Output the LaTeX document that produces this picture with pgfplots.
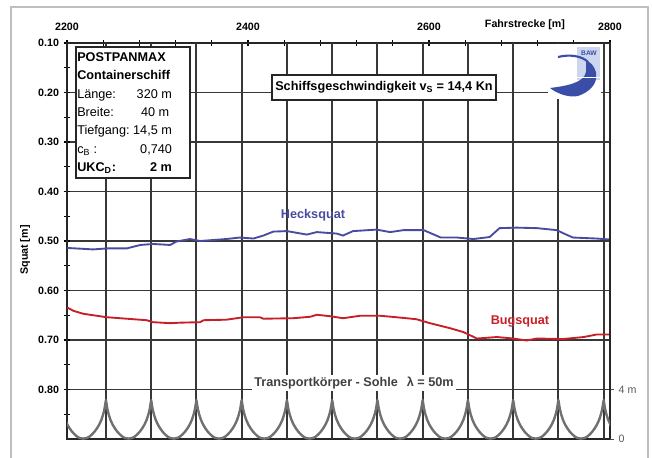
\documentclass[border=0pt]{standalone}
\usepackage{fontspec}
\setmainfont{Liberation Sans}
\usepackage{pgfplots}
\pgfplotsset{compat=1.18}

\definecolor{heckblue}{RGB}{74,74,160}
\definecolor{bugred}{RGB}{200,30,40}
\definecolor{archgray}{RGB}{112,112,112}
\definecolor{gridgray}{RGB}{55,55,55}
\definecolor{logoblue}{RGB}{58,78,168}
\definecolor{logopale}{RGB}{205,214,238}

\begin{document}
\begin{tikzpicture}[px/.style={x=0.75pt,y=-0.75pt,shift={(main.north west)},xshift=-50.25pt,yshift=32.25pt}]

% Squat along the track (m)
\begin{axis}[
    name=main,
    scale only axis, width=407.25pt, height=297pt,
    xmin=2200, xmax=2800, ymin=0.1, ymax=0.9, y dir=reverse,
    axis line style={line width=1pt, black!85},
    xtick={2200,2400,2600,2800}, minor x tick num=4,
    xtick pos=upper, xticklabel pos=upper,
    ytick={0.1,0.2,0.3,0.4,0.5,0.6,0.7,0.8},
    minor ytick={0.15,0.25,0.35,0.45,0.55,0.65,0.75,0.85},
    ytick pos=left,
    tick align=center, major tick length=5pt, minor tick length=4pt,
    every tick/.style={black, line width=0.8pt},
    ymajorgrids, major grid style={gridgray, line width=0.9pt},
    tick label style={font=\bfseries\fontsize{8}{9}\selectfont,
        /pgf/number format/assume math mode=true},
    xticklabel style={/pgf/number format/1000 sep={}, yshift=3pt},
    yticklabel style={/pgf/number format/.cd, fixed, fixed zerofill, precision=2},
]
% vertical grid, one line per sole wave (50 m)
\pgfplotsinvokeforeach{2243,2293,2343,2393,2443,2493,2543,2593,2643,2693,2743,2793}{
  \draw[gridgray, line width=1.5pt] (axis cs:#1,0.1) -- (axis cs:#1,0.9);
}
\addplot[heckblue, line width=1.4pt] coordinates {
(2200,0.514)(2229,0.517)(2244,0.515)(2266,0.515)(2281,0.508)(2295,0.506)
(2314,0.508)(2321,0.501)(2336,0.496)(2347,0.500)(2376,0.496)(2391,0.493)
(2406,0.495)(2417,0.489)(2428,0.481)(2443,0.480)(2465,0.487)(2476,0.482)
(2498,0.485)(2505,0.489)(2516,0.480)(2542,0.477)(2557,0.482)(2572,0.478)
(2594,0.478)(2613,0.493)(2631,0.493)(2649,0.496)(2667,0.492)(2678,0.474)
(2697,0.473)(2719,0.474)(2741,0.478)(2748,0.484)(2759,0.493)(2785,0.495)
(2800,0.497)
};
\addplot[bugred, line width=1.4pt] coordinates {
(2200,0.634)(2207,0.641)(2218,0.647)(2229,0.650)(2244,0.654)(2266,0.657)
(2288,0.660)(2295,0.664)(2314,0.666)(2325,0.665)(2347,0.664)(2351,0.660)
(2376,0.659)(2395,0.654)(2413,0.654)(2417,0.657)(2450,0.656)(2469,0.653)
(2476,0.649)(2491,0.652)(2505,0.656)(2524,0.651)(2546,0.651)(2564,0.654)
(2586,0.658)(2601,0.666)(2623,0.676)(2638,0.684)(2653,0.697)(2675,0.694)
(2693,0.697)(2708,0.701)(2719,0.697)(2748,0.698)(2771,0.694)(2785,0.689)
(2800,0.689)
};
\end{axis}

% Sole profile (m above base), lambda = 50 m
\begin{axis}[
    scale only axis, width=407.25pt, height=297pt,
    xmin=2200, xmax=2800, ymin=0, ymax=32,
    axis x line=none, axis y line*=right,
    axis line style={line width=1pt, black!85},
    ytick={0,4}, yticklabels={0,4 m},
    tick align=outside, major tick length=3pt,
    every tick/.style={black!70, line width=0.6pt},
    yticklabel style={font=\fontsize{8}{9}\selectfont, text=black!65},
]
\addplot[archgray, line width=1.8pt, line join=round] coordinates {
(2193,3.15)(2194.5,2.45)(2196,2.0)(2198,1.55)(2200.5,1.15)(2203,0.85)(2205.5,0.6)(2208,0.4)(2211,0.2)(2214,0.08)
(2218,0.03)(2222,0.08)(2225,0.2)(2228,0.4)(2230.5,0.6)(2233,0.85)(2235.5,1.15)(2238,1.55)(2240,2.0)(2241.5,2.45)(2243,3.15)
(2244.5,2.45)(2246,2.0)(2248,1.55)(2250.5,1.15)(2253,0.85)(2255.5,0.6)(2258,0.4)(2261,0.2)(2264,0.08)
(2268,0.03)(2272,0.08)(2275,0.2)(2278,0.4)(2280.5,0.6)(2283,0.85)(2285.5,1.15)(2288,1.55)(2290,2.0)(2291.5,2.45)(2293,3.15)
(2294.5,2.45)(2296,2.0)(2298,1.55)(2300.5,1.15)(2303,0.85)(2305.5,0.6)(2308,0.4)(2311,0.2)(2314,0.08)
(2318,0.03)(2322,0.08)(2325,0.2)(2328,0.4)(2330.5,0.6)(2333,0.85)(2335.5,1.15)(2338,1.55)(2340,2.0)(2341.5,2.45)(2343,3.15)
(2344.5,2.45)(2346,2.0)(2348,1.55)(2350.5,1.15)(2353,0.85)(2355.5,0.6)(2358,0.4)(2361,0.2)(2364,0.08)
(2368,0.03)(2372,0.08)(2375,0.2)(2378,0.4)(2380.5,0.6)(2383,0.85)(2385.5,1.15)(2388,1.55)(2390,2.0)(2391.5,2.45)(2393,3.15)
(2394.5,2.45)(2396,2.0)(2398,1.55)(2400.5,1.15)(2403,0.85)(2405.5,0.6)(2408,0.4)(2411,0.2)(2414,0.08)
(2418,0.03)(2422,0.08)(2425,0.2)(2428,0.4)(2430.5,0.6)(2433,0.85)(2435.5,1.15)(2438,1.55)(2440,2.0)(2441.5,2.45)(2443,3.15)
(2444.5,2.45)(2446,2.0)(2448,1.55)(2450.5,1.15)(2453,0.85)(2455.5,0.6)(2458,0.4)(2461,0.2)(2464,0.08)
(2468,0.03)(2472,0.08)(2475,0.2)(2478,0.4)(2480.5,0.6)(2483,0.85)(2485.5,1.15)(2488,1.55)(2490,2.0)(2491.5,2.45)(2493,3.15)
(2494.5,2.45)(2496,2.0)(2498,1.55)(2500.5,1.15)(2503,0.85)(2505.5,0.6)(2508,0.4)(2511,0.2)(2514,0.08)
(2518,0.03)(2522,0.08)(2525,0.2)(2528,0.4)(2530.5,0.6)(2533,0.85)(2535.5,1.15)(2538,1.55)(2540,2.0)(2541.5,2.45)(2543,3.15)
(2544.5,2.45)(2546,2.0)(2548,1.55)(2550.5,1.15)(2553,0.85)(2555.5,0.6)(2558,0.4)(2561,0.2)(2564,0.08)
(2568,0.03)(2572,0.08)(2575,0.2)(2578,0.4)(2580.5,0.6)(2583,0.85)(2585.5,1.15)(2588,1.55)(2590,2.0)(2591.5,2.45)(2593,3.15)
(2594.5,2.45)(2596,2.0)(2598,1.55)(2600.5,1.15)(2603,0.85)(2605.5,0.6)(2608,0.4)(2611,0.2)(2614,0.08)
(2618,0.03)(2622,0.08)(2625,0.2)(2628,0.4)(2630.5,0.6)(2633,0.85)(2635.5,1.15)(2638,1.55)(2640,2.0)(2641.5,2.45)(2643,3.15)
(2644.5,2.45)(2646,2.0)(2648,1.55)(2650.5,1.15)(2653,0.85)(2655.5,0.6)(2658,0.4)(2661,0.2)(2664,0.08)
(2668,0.03)(2672,0.08)(2675,0.2)(2678,0.4)(2680.5,0.6)(2683,0.85)(2685.5,1.15)(2688,1.55)(2690,2.0)(2691.5,2.45)(2693,3.15)
(2694.5,2.45)(2696,2.0)(2698,1.55)(2700.5,1.15)(2703,0.85)(2705.5,0.6)(2708,0.4)(2711,0.2)(2714,0.08)
(2718,0.03)(2722,0.08)(2725,0.2)(2728,0.4)(2730.5,0.6)(2733,0.85)(2735.5,1.15)(2738,1.55)(2740,2.0)(2741.5,2.45)(2743,3.15)
(2744.5,2.45)(2746,2.0)(2748,1.55)(2750.5,1.15)(2753,0.85)(2755.5,0.6)(2758,0.4)(2761,0.2)(2764,0.08)
(2768,0.03)(2772,0.08)(2775,0.2)(2778,0.4)(2780.5,0.6)(2783,0.85)(2785.5,1.15)(2788,1.55)(2790,2.0)(2791.5,2.45)(2793,3.15)
(2794.5,2.45)(2796,2.0)(2798,1.55)(2800.5,1.15)(2803,0.85)
};
\end{axis}

% annotations, in pixel units of the reference
\begin{scope}[px]
\draw[black!25, line width=0.8pt] (11,7) rectangle (648,470);
\node[rotate=90, font=\bfseries\fontsize{8}{9}\selectfont] at (25,250) {Squat [m]};
\node[font=\bfseries\fontsize{8}{9}\selectfont] at (525,25) {Fahrstrecke [m]};

\node[draw=black!85, line width=1.5pt, fill=white, anchor=north west, inner sep=0pt,
      minimum width=85.5pt, minimum height=98.25pt] at (75,46) {};
\node[anchor=north west, inner sep=0pt, align=left, font=\fontsize{9.5}{13.75}\selectfont] at (77,52.5)
  {\textbf{POSTPANMAX}\\
   \textbf{Containerschiff}\\
   \makebox[71pt]{Länge:\hfill 320 m}\\
   \makebox[71pt]{Breite:\hfill 40 m\hspace{2pt}}\\
   \makebox[71pt]{Tiefgang:\hfill 14,5 m}\\
   \makebox[71pt]{c\textsubscript{B} :\hfill 0,740}\\
   \makebox[71pt]{\textbf{UKC\textsubscript{D}:\hfill 2 m}}};

\node[draw=black!85, line width=1.2pt, fill=white, minimum width=168pt, minimum height=18.75pt,
      inner sep=1pt, font=\bfseries\fontsize{9.5}{11}\selectfont] at (384,87.5)
  {Schiffsgeschwindigkeit v\textsubscript{S} = 14,4 Kn};

\node[text=heckblue, font=\bfseries\fontsize{9.5}{11}\selectfont] at (313,215) {Hecksquat};
\node[text=bugred, font=\bfseries\fontsize{9.5}{11}\selectfont] at (520,321) {Bugsquat};
\node[fill=white, inner sep=1.5pt, text=black!75, font=\bfseries\fontsize{9.5}{11}\selectfont] at (354,383)
  {Transportkörper - Sohle\hspace{4pt} λ = 50m};

% BAW logo
\fill[white] (548,44) rectangle (601,99);
\fill[logopale] (577,47) rectangle (600,80);
\node[text=logoblue, font=\bfseries\fontsize{5}{6}\selectfont, inner sep=0pt] at (589,53) {BAW};
\fill[logoblue] (586,60) .. controls (601,68) and (601,88) .. (578,96)
   .. controls (568,98) and (556,93) .. (550,88)
   .. controls (566,86) and (584,83) .. (586,72) -- cycle;
\draw[logoblue, line width=1.6pt] (558,57) .. controls (570,54) and (582,56) .. (588,62);
\draw[white, line width=0.6pt] (560,77) -- (600,77);

\pgfresetboundingbox
\path[use as bounding box] (0,0) rectangle (652,457);
\end{scope}
\end{tikzpicture}
\end{document}
